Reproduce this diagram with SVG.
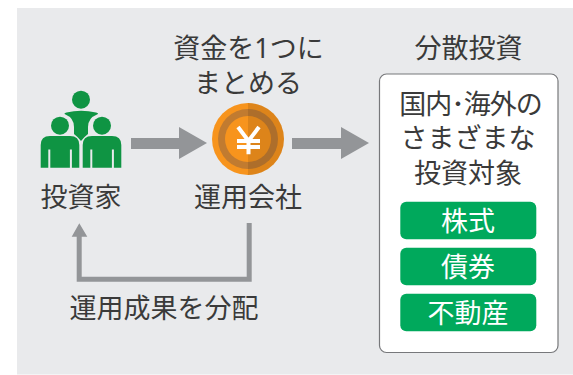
<svg xmlns="http://www.w3.org/2000/svg" width="573" height="375" viewBox="0 0 573 375">
<style>
text{font-family:"Noto Sans CJK JP","Noto Sans",sans-serif;font-size:27px;fill:#3a3a3a;text-anchor:middle}
.w{fill:#fff}
.g{fill:#00a95c}
.p{fill:#0f9443}
.c{fill:#939598}
</style>
<rect width="573" height="375" fill="#fff"/>
<rect x="17" y="8" width="556" height="366.500" fill="#e9eaec"/>
<g id="connectors">
<polygon class="c" points="131,138 179,138 179,127 207,143 179,159 179,149 131,149"/>
<polygon class="c" points="292,138 341,138 341,127 369,143 341,159 341,149 292,149"/>
<polygon class="c" points="79.300,223.300 87.300,236.700 81.700,236.700 81.700,276.700 246.700,276.700 246.700,223 251.700,223 251.700,281.700 76.700,281.700 76.700,236.700 71.700,236.700"/>
</g>
<g id="investor">
<circle class="p" cx="81" cy="99.700" r="9"/>
<circle class="p" cx="60" cy="125.700" r="9"/>
<circle class="p" cx="102" cy="125.700" r="9"/>
<path class="p" d="M66.500,112.500Q81,109 96,112.500Q99.500,113.500 97,114.500Q88,118 88,127V134Q84,137 81,141Q78,137 74,134V127Q74,118 65.500,114.500Q63,113.500 66.500,112.500Z"/>
<path class="p" d="M40.700,167.700V145Q40.700,136 50,136H70Q79.300,136 79.300,145V167.700H71.900V149.500H69.900V167.700H50.300V149.500H48.300V167.700Z"/>
<path class="p" d="M82.700,167.700V145Q82.700,136 92,136H112Q121.300,136 121.300,145V167.700H113.900V149.500H111.900V167.700H92.300V149.500H90.300V167.700Z"/>
<text x="81" y="207">投資家</text>
</g>
<g id="company">
<circle cx="248" cy="139" r="36" fill="#f7941d"/>
<circle cx="248" cy="139" r="30" fill="#c17b30"/>
<circle cx="248" cy="139" r="23" fill="#f7941d"/>
<path d="M248,103A36,36 0 0 1 248,175Z" fill="#000" opacity=".1"/>
<path d="M238,127L248.500,141L259,127M248.500,141V154.300M237,141H260M237,147H260" fill="none" stroke="#fff" stroke-width="4"/>
<text x="248.500" y="58">資金を<tspan font-family="'Noto Sans',sans-serif">1</tspan>つに</text>
<text x="248" y="93">まとめる</text>
<text x="248" y="207">運用会社</text>
</g>
<g id="distribution-label"><text x="164" y="318">運用成果を分配</text></g>
<g id="diversified">
<text x="468.500" y="58">分散投資</text>
<rect x="379.500" y="74" width="178.500" height="278.500" rx="7" fill="#fff" stroke="#77787b" stroke-width="1.200"/>
<text x="470.500" y="114" letter-spacing="-1">国内･海外の</text>
<text x="468" y="148">さまざまな</text>
<text x="468" y="183">投資対象</text>
</g>
<g id="stocks"><rect class="g" x="400.300" y="201.700" width="136" height="37.600" rx="6"/><text class="w" x="468" y="231">株式</text></g>
<g id="bonds"><rect class="g" x="400.300" y="247.700" width="136" height="37.600" rx="6"/><text class="w" x="468" y="277">債券</text></g>
<g id="realestate"><rect class="g" x="400.300" y="293.700" width="136" height="37.600" rx="6"/><text class="w" x="468" y="323">不動産</text></g>
</svg>
